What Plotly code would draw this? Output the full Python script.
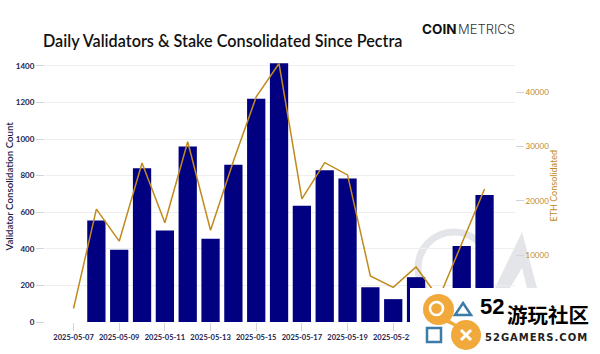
import plotly.graph_objects as go

dates = ["2025-05-07","2025-05-08","2025-05-09","2025-05-10","2025-05-11","2025-05-12","2025-05-13",
         "2025-05-14","2025-05-15","2025-05-16","2025-05-17","2025-05-18","2025-05-19","2025-05-20",
         "2025-05-21","2025-05-22","2025-05-23","2025-05-24","2025-05-25"]
validators = [0,555,395,840,500,960,455,860,1220,1415,635,830,785,190,125,245,40,415,695]
eth = [200,18500,12600,27000,16000,30900,14600,27300,39150,45300,20400,27050,24800,6200,4100,7850,2100,12000,22200]
date_ticks = ["2025-05-07","2025-05-09","2025-05-11","2025-05-13","2025-05-15","2025-05-17","2025-05-19","2025-05-21"]
eth_ticks = [10000,20000,30000,40000]

W, H = 600, 354
L, R, T, B = 45, 85, 63, 32
NAVY = "#000080"
GOLD = "#C08A1E"
TICK = "#1c1c4c"
def px(x): return (x - L) / (W - L - R)
def py(y): return 1 - (y - T) / (H - T - B)

fig = go.Figure()
fig.add_bar(x=dates, y=validators, marker=dict(color=NAVY, line=dict(width=0)), name="Validators", yaxis="y")
fig.add_scatter(x=dates, y=eth, mode="lines", line=dict(color=GOLD, width=1.5), name="ETH", yaxis="y2")

def shape(kind, x0, y0, x1, y1, **kw):
    return dict(type=kind, xref="paper", yref="paper", x0=px(x0), x1=px(x1), y0=py(y0), y1=py(y1), **kw)
def path(pts, **kw):
    d = "M " + " L ".join(f"{px(a):.4f},{py(b):.4f}" for a, b in pts) + " Z"
    return dict(type="path", xref="paper", yref="paper", path=d, **kw)

GREY = "#e3e5e9"
LOGO_O = "#F0A93A"
LOGO_B = "#3E7CA8"
shapes = [
    shape("circle", 418, 232, 490, 304, layer="below", line=dict(color=GREY, width=7), fillcolor="rgba(0,0,0,0)"),
    path([(522,232),(537,288),(527,288),(522,268),(510,288),(495,288)], layer="below", line=dict(width=0), fillcolor=GREY),
    shape("rect", 410, 288, 600, 354, layer="above", line=dict(width=0), fillcolor="white"),
    shape("circle", 423, 294, 454, 325, layer="above", line=dict(width=0), fillcolor=LOGO_O),
    shape("circle", 451, 320, 481, 350, layer="above", line=dict(width=0), fillcolor=LOGO_O),
    path([(445,317),(458,325),(458,328),(445,322)], layer="above", line=dict(width=0), fillcolor=LOGO_O),
    shape("circle", 430, 302, 443, 315, layer="above", line=dict(color="white", width=2.5), fillcolor=LOGO_O),
    path([(463,303),(471,315),(455,315)], layer="above", line=dict(color=LOGO_B, width=2.5), fillcolor="white"),
    shape("rect", 427, 328, 441, 342, layer="above", line=dict(color=LOGO_B, width=2.5), fillcolor="white"),
    shape("line", 461, 330, 471, 340, layer="above", line=dict(color="white", width=3)),
    shape("line", 471, 330, 461, 340, layer="above", line=dict(color="white", width=3)),
]

def ann(text, x, y, size, color="#111", family="Lato", anchor="left", weight=None, **kw):
    f = dict(size=size, color=color, family=family)
    if weight:
        f["weight"] = weight
    return dict(text=text, xref="paper", yref="paper", x=px(x), y=py(y), showarrow=False,
                xanchor=anchor, yanchor="middle", font=f, **kw)

annotations = [
    ann("<b>COIN</b>", 420, 29, 13.5, family="Inter"),
    ann("METRICS", 456, 29, 13, color="#333", family="Inter", weight=300),
    ann("<b>52</b>", 478, 306, 22, color="#000", family="Liberation Sans"),
    ann("<b>游玩社区</b>", 505, 314, 20.5, color="#000", family="Noto Sans CJK SC"),
    ann("<b>" + "\u200a".join("52GAMERS.COM") + "</b>", 483, 337, 10, color="#222", family="DejaVu Sans"),
    ann("Validator Consolidation Count", 8, 186.5, 9.7, color=TICK, anchor="center", weight=600, textangle=-90),
    ann("ETH Consolidated", 553, 186.5, 9, color=GOLD, anchor="center", textangle=-90),
]

fig.update_layout(
    width=W, height=H, autosize=False, showlegend=False,
    margin=dict(l=L, r=R, t=T, b=B),
    paper_bgcolor="white", plot_bgcolor="white", bargap=0.2,
    font=dict(family="Lato", color=TICK),
    title=dict(text="Daily Validators & Stake Consolidated Since Pectra", x=43/W, xanchor="left",
               y=1-41/H, yanchor="middle", font=dict(family="Lato", size=16.2, color="#111", weight=600)),
    xaxis=dict(type="date", range=["2025-05-05 18:00","2025-05-26 08:00"], tickformat="%Y-%m-%d",
               tickmode="array", tickvals=date_ticks, ticks="outside", ticklen=8, tickcolor="#d4d4d8", tickangle=0,
               automargin=False, showgrid=False, zeroline=False,
               tickfont=dict(size=7.5, color=TICK, family="Lato", weight=700)),
    yaxis=dict(range=[0,1416], dtick=200, showgrid=True, gridcolor="#eeeeee", zeroline=False,
               ticks="outside", ticklen=8, tickcolor="#d4d4d8", automargin=False,
               tickfont=dict(size=8, color=TICK, family="Lato", weight=700)),
    yaxis2=dict(overlaying="y", side="right", range=[-2280,45400], tickmode="array", tickvals=eth_ticks,
                showgrid=False, zeroline=False,
                ticks="outside", ticklen=8, tickcolor="#d4d4d8", tickformat="d", automargin=False,
                tickfont=dict(size=8, color=GOLD, family="Lato")),
    shapes=shapes, annotations=annotations,
)
fig.write_html("out.html", config=dict(displayModeBar=False), post_script="document.body.style.margin='0';")
